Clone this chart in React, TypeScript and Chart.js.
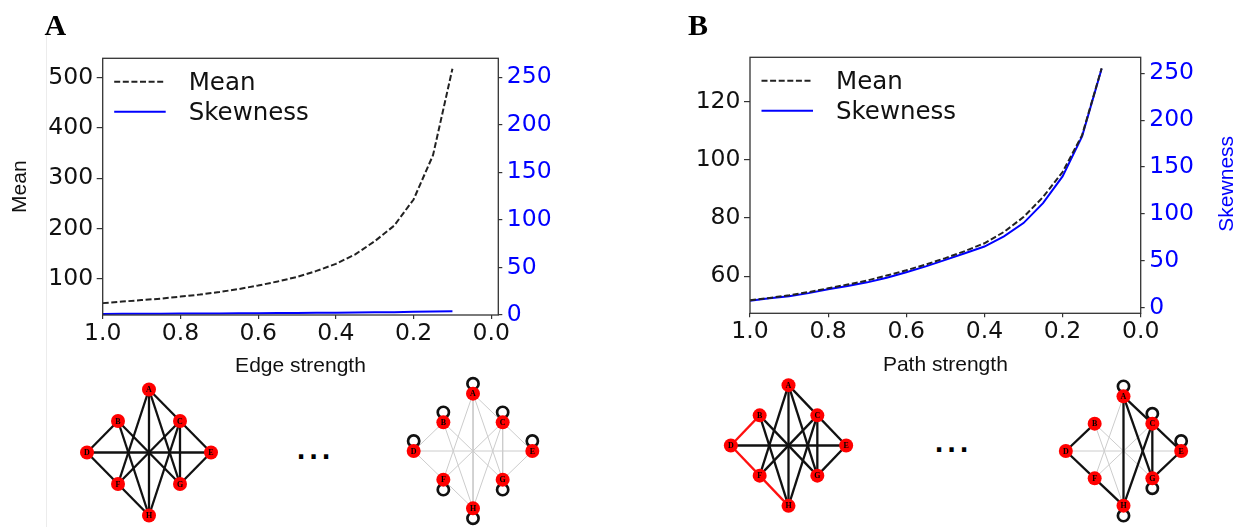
import React, { useEffect, useRef } from 'react';
import { Chart, registerables } from 'chart.js';

Chart.register(...registerables);

// ---------------- data ----------------
const STRENGTH = [1.0, 0.95, 0.9, 0.85, 0.8, 0.75, 0.7, 0.65, 0.6, 0.55, 0.5, 0.45, 0.4, 0.35, 0.3, 0.25, 0.2, 0.15, 0.1];
const EDGE_MEAN = [52, 55, 58, 61, 65, 69, 74, 80, 87, 95, 104, 116, 130, 149, 175, 206, 258, 346, 518];
const EDGE_SKEW = [1.1, 1.2, 1.3, 1.4, 1.5, 1.6, 1.7, 1.8, 1.9, 2.0, 2.1, 2.3, 2.4, 2.6, 2.8, 3.0, 3.3, 3.6, 3.9];
const PATH_MEAN = [51.7, 52.5, 53.4, 54.5, 55.8, 57.1, 58.5, 60.2, 62.0, 64.0, 66.2, 68.6, 71.3, 75.2, 80.3, 87.2, 95.8, 108.5, 131.5];
const PATH_SKEW = [7.5, 10, 12.3, 15.5, 19.7, 23, 27, 32, 37.8, 44, 51, 58, 65.2, 76, 90.2, 111.5, 140, 182.7, 254.7];
const X_TICKS = [1.0, 0.8, 0.6, 0.4, 0.2, 0.0];
const EDGE_MEAN_TICKS = [100, 200, 300, 400, 500];
const PATH_MEAN_TICKS = [60, 80, 100, 120];
const SKEW_TICKS = [0, 50, 100, 150, 200, 250];
const SERIES_LABELS = ['Mean', 'Skewness'];

// network diagrams
const NODE_NAMES = ['A', 'B', 'C', 'D', 'E', 'F', 'G', 'H'];
const NODE_X = [0, -1, 1, -2, 2, -1, 1, 0];
const NODE_Y = [2, 1, 1, 0, 0, -1, -1, -2];
const EDGES: [string, string][] = [
  ['A', 'C'], ['A', 'F'], ['A', 'G'], ['A', 'H'], ['B', 'D'], ['B', 'G'], ['B', 'H'], ['C', 'E'],
  ['C', 'F'], ['C', 'G'], ['C', 'H'], ['D', 'E'], ['D', 'F'], ['E', 'G'], ['F', 'H'],
];
const EDGE_KIND_1 = ['k', 'k', 'k', 'k', 'k', 'k', 'k', 'k', 'k', 'k', 'k', 'k', 'k', 'k', 'k'];
const EDGE_KIND_2 = ['g', 'g', 'g', 'g', 'g', 'g', 'g', 'g', 'g', 'g', 'g', 'g', 'g', 'g', 'g'];
const EDGE_KIND_3 = ['k', 'k', 'k', 'k', 'r', 'k', 'k', 'k', 'k', 'k', 'k', 'k', 'r', 'k', 'r'];
const EDGE_KIND_4 = ['k', 'g', 'k', 'k', 'k', 'g', 'g', 'k', 'g', 'k', 'k', 'g', 'k', 'k', 'k'];
const LOOPS_1: string[] = [];
const LOOP_DIRS_1: number[] = [];
const LOOPS_2 = ['A', 'B', 'C', 'D', 'E', 'F', 'G', 'H'];
const LOOP_DIRS_2 = [1, 1, 1, 1, 1, -1, -1, -1];
const LOOPS_4 = ['A', 'C', 'E', 'G', 'H'];
const LOOP_DIRS_4 = [1, 1, 1, -1, -1];

// ---------------- styles ----------------
const FRAME = '#333333';
const TEXT = '#111111';
const BLUE = '#0000ff';
const EDGE_STYLE: Record<string, { color: string; width: number }> = {
  k: { color: '#111111', width: 2.3 },
  g: { color: '#cccccc', width: 1 },
  r: { color: '#ff1010', width: 2.3 },
};
const LOOP_OFFSET = 10;

const framePlugin = {
  id: 'frameBox',
  afterDraw(chart: any) {
    const { ctx, chartArea: a } = chart;
    ctx.save();
    ctx.strokeStyle = FRAME;
    ctx.lineWidth = 1.3;
    ctx.strokeRect(a.left, a.top, a.right - a.left, a.bottom - a.top);
    ctx.restore();
  },
};

const legendPlugin = {
  id: 'innerLegend',
  afterDatasetsDraw(chart: any) {
    const { ctx, chartArea: a } = chart;
    ctx.save();
    chart.data.datasets.forEach((ds: any, i: number) => {
      const y = a.top + 23.5 + i * 30;
      ctx.strokeStyle = ds.borderColor;
      ctx.lineWidth = ds.borderWidth;
      ctx.setLineDash(ds.borderDash || []);
      ctx.beginPath();
      ctx.moveTo(a.left + 11.5, y);
      ctx.lineTo(a.left + 63, y);
      ctx.stroke();
      ctx.setLineDash([]);
      ctx.fillStyle = TEXT;
      ctx.font = '24.5px "DejaVu Sans"';
      ctx.textAlign = 'left';
      ctx.textBaseline = 'alphabetic';
      ctx.fillText(ds.label, a.left + 86, a.top + 32 + i * 30);
    });
    ctx.restore();
  },
};

type PanelSpec = {
  left: number; width: number; height: number;
  padTop: number; padBottom: number;
  yWidth: number; y1Width: number; xHeight: number;
  xMin: number; xMax: number;
  yMin: number; yMax: number; y1Min: number; y1Max: number;
  mean: number[]; skew: number[]; meanTicks: number[];
  xTitle: string; yTitle?: string; y1Title?: string; y1TitleX?: number;
  yTick: number; yPad: number; y1Tick: number; y1Pad: number;
};

function Panel({ spec }: { spec: PanelSpec }) {
  const ref = useRef<HTMLCanvasElement>(null);
  useEffect(() => {
    if (!ref.current) return;
    const tickFont = { family: 'DejaVu Sans', size: 23.5, lineHeight: 1 };
    const titleFont = { family: 'Liberation Sans', size: 21, lineHeight: 1.2 };
    const plugins: any[] = [framePlugin, legendPlugin];
    if (spec.y1Title) {
      plugins.push({
        id: 'rightTitle',
        afterDraw(chart: any) {
          const { ctx, chartArea: a } = chart;
          ctx.save();
          ctx.translate(spec.y1TitleX, (a.top + a.bottom) / 2 - 1.5);
          ctx.rotate(-Math.PI / 2);
          ctx.fillStyle = BLUE;
          ctx.font = '21px "Liberation Sans"';
          ctx.textAlign = 'center';
          ctx.textBaseline = 'alphabetic';
          ctx.fillText(spec.y1Title, 0, 0);
          ctx.restore();
        },
      });
    }
    const chart = new Chart(ref.current, {
      type: 'line',
      data: {
        datasets: [
          {
            label: SERIES_LABELS[0],
            data: STRENGTH.map((x, i) => ({ x, y: spec.mean[i] })),
            yAxisID: 'y',
            borderColor: '#222222',
            borderWidth: 2,
            borderDash: [6, 2.6],
            pointRadius: 0,
            fill: false,
            tension: 0,
          },
          {
            label: SERIES_LABELS[1],
            data: STRENGTH.map((x, i) => ({ x, y: spec.skew[i] })),
            yAxisID: 'y1',
            borderColor: BLUE,
            borderWidth: 2,
            pointRadius: 0,
            fill: false,
            tension: 0,
          },
        ],
      } as any,
      options: {
        animation: false,
        responsive: false,
        events: [],
        layout: { autoPadding: false, padding: { top: spec.padTop, bottom: spec.padBottom, left: 0, right: 0 } },
        plugins: { legend: { display: false }, tooltip: { enabled: false } },
        scales: {
          x: {
            type: 'linear',
            reverse: true,
            min: spec.xMin,
            max: spec.xMax,
            afterBuildTicks: (s: any) => { s.ticks = X_TICKS.map((v) => ({ value: v })); },
            afterFit: (s: any) => { s.height = spec.xHeight; },
            grid: { drawOnChartArea: false, drawTicks: true, tickLength: 4, color: FRAME, lineWidth: 1.2 },
            border: { display: false },
            ticks: {
              font: tickFont, color: TEXT, padding: 3, maxRotation: 0, autoSkip: false,
              callback: (v: any) => Number(v).toFixed(1),
            },
            title: { display: true, text: spec.xTitle, font: titleFont, color: TEXT, padding: { top: 0, bottom: 0 } },
          },
          y: {
            type: 'linear',
            position: 'left',
            min: spec.yMin,
            max: spec.yMax,
            afterBuildTicks: (s: any) => { s.ticks = spec.meanTicks.map((v) => ({ value: v })); },
            afterFit: (s: any) => { s.width = spec.yWidth; },
            grid: { drawOnChartArea: false, drawTicks: true, tickLength: spec.yTick, color: FRAME, lineWidth: 1.2 },
            border: { display: false },
            ticks: { font: tickFont, color: TEXT, padding: spec.yPad, callback: (v: any) => String(v) },
            title: {
              display: !!spec.yTitle, text: spec.yTitle || '', font: titleFont, color: TEXT,
              padding: { top: 7.4, bottom: 0 },
            },
          },
          y1: {
            type: 'linear',
            position: 'right',
            min: spec.y1Min,
            max: spec.y1Max,
            afterBuildTicks: (s: any) => { s.ticks = SKEW_TICKS.map((v) => ({ value: v })); },
            afterFit: (s: any) => { s.width = spec.y1Width; },
            grid: { drawOnChartArea: false, drawTicks: true, tickLength: spec.y1Tick, color: FRAME, lineWidth: 1.2 },
            border: { display: false },
            ticks: { font: tickFont, color: BLUE, padding: spec.y1Pad, callback: (v: any) => String(v) },
          },
        },
      } as any,
      plugins,
    });
    return () => chart.destroy();
  }, []);
  return (
    <canvas
      ref={ref}
      width={spec.width}
      height={spec.height}
      style={{ position: 'absolute', left: spec.left, top: 0, width: spec.width, height: spec.height }}
    />
  );
}

type GraphSpec = {
  cx: number; cy: number; ux: number; uy: number;
  kinds: string[]; loops: string[]; loopDirs: number[];
};

const nodeLabelPlugin = {
  id: 'nodeLabels',
  afterDatasetsDraw(chart: any) {
    const { ctx } = chart;
    const ds = chart.data.datasets[0];
    const meta = chart.getDatasetMeta(0);
    ctx.save();
    ctx.fillStyle = '#000';
    ctx.font = 'bold 8px "Liberation Serif"';
    ctx.textAlign = 'center';
    ctx.textBaseline = 'middle';
    meta.data.forEach((el: any, i: number) => {
      ctx.fillText(ds.data[i].name, el.x, el.y + 0.5);
    });
    ctx.restore();
  },
};

function Graph({ spec }: { spec: GraphSpec }) {
  const ref = useRef<HTMLCanvasElement>(null);
  const w = Math.round(6 * spec.ux);
  const h = Math.round(6 * spec.uy);
  useEffect(() => {
    if (!ref.current) return;
    const unitY = h / 6;
    const pos = (n: string) => {
      const i = NODE_NAMES.indexOf(n);
      return { x: NODE_X[i], y: NODE_Y[i] };
    };
    const nodeSet = {
      data: NODE_NAMES.map((n, i) => ({ x: NODE_X[i], y: NODE_Y[i], name: n })),
      pointRadius: 7,
      pointBackgroundColor: '#ff0000',
      pointBorderColor: '#ff0000',
      pointBorderWidth: 0,
      order: 0,
      clip: false,
    };
    const loopSet = {
      data: spec.loops.map((n, i) => {
        const p = pos(n);
        return { x: p.x, y: p.y + (spec.loopDirs[i] * LOOP_OFFSET) / unitY };
      }),
      pointRadius: 5.6,
      pointBorderWidth: 2.7,
      pointBorderColor: '#111111',
      pointBackgroundColor: 'rgba(0,0,0,0)',
      order: 1,
      clip: false,
    };
    const edgeSets = EDGES.map(([a, b], i) => {
      const st = EDGE_STYLE[spec.kinds[i]];
      return {
        data: [pos(a), pos(b)],
        showLine: true,
        borderColor: st.color,
        borderWidth: st.width,
        pointRadius: 0,
        order: st.width > 1.5 ? 2 : 3,
        clip: false,
      };
    });
    const chart = new Chart(ref.current, {
      type: 'scatter',
      data: { datasets: [nodeSet, loopSet, ...edgeSets] } as any,
      options: {
        animation: false,
        responsive: false,
        events: [],
        layout: { autoPadding: false, padding: 0 },
        plugins: { legend: { display: false }, tooltip: { enabled: false } },
        scales: {
          x: { type: 'linear', min: -3, max: 3, display: false },
          y: { type: 'linear', min: -3, max: 3, display: false },
        },
      } as any,
      plugins: [nodeLabelPlugin],
    });
    return () => chart.destroy();
  }, []);
  return (
    <canvas
      ref={ref}
      width={w}
      height={h}
      style={{ position: 'absolute', left: spec.cx - w / 2, top: spec.cy - h / 2, width: w, height: h }}
    />
  );
}

const PANEL_A: PanelSpec = {
  left: 0, width: 600, height: 385, padTop: 58.3, padBottom: 6.4,
  yWidth: 102.7, y1Width: 101.7, xHeight: 63.6,
  xMin: -0.018, xMax: 1, yMin: 28.4, yMax: 538.6, y1Min: 0, y1Max: 270,
  mean: EDGE_MEAN, skew: EDGE_SKEW, meanTicks: EDGE_MEAN_TICKS,
  xTitle: 'Edge strength', yTitle: 'Mean',
  yTick: 6, yPad: 3.5, y1Tick: 4, y1Pad: 4.5,
};

const PANEL_B: PanelSpec = {
  left: 640, width: 596, height: 385, padTop: 57.3, padBottom: 7,
  yWidth: 110, y1Width: 95.3, xHeight: 64.7,
  xMin: 0, xMax: 1, yMin: 47.2, yMax: 135.3, y1Min: -6, y1Max: 267,
  mean: PATH_MEAN, skew: PATH_SKEW, meanTicks: PATH_MEAN_TICKS,
  xTitle: 'Path strength', y1Title: 'Skewness', y1TitleX: 593.3,
  yTick: 6, yPad: 3.5, y1Tick: 4, y1Pad: 4.5,
};

const GRAPHS: GraphSpec[] = [
  { cx: 148.7, cy: 452, ux: 31, uy: 31.5, kinds: EDGE_KIND_1, loops: LOOPS_1, loopDirs: LOOP_DIRS_1 },
  { cx: 472.5, cy: 451.3, ux: 29.6, uy: 28.7, kinds: EDGE_KIND_2, loops: LOOPS_2, loopDirs: LOOP_DIRS_2 },
  { cx: 788.3, cy: 445.9, ux: 28.8, uy: 30.1, kinds: EDGE_KIND_3, loops: LOOPS_1, loopDirs: LOOP_DIRS_1 },
  { cx: 1123.5, cy: 450.9, ux: 28.75, uy: 27.4, kinds: EDGE_KIND_4, loops: LOOPS_4, loopDirs: LOOP_DIRS_4 },
];

const letterStyle: React.CSSProperties = {
  position: 'absolute',
  fontFamily: '"Liberation Serif", serif',
  fontWeight: 'bold',
  fontSize: 30,
  lineHeight: '30px',
  color: '#000',
  margin: 0,
};

const dotsStyle: React.CSSProperties = {
  position: 'absolute',
  fontFamily: '"DejaVu Sans", sans-serif',
  fontWeight: 'bold',
  fontSize: 24,
  lineHeight: '24px',
  letterSpacing: 3.4,
  color: '#000',
  whiteSpace: 'nowrap',
};

export default function App() {
  return (
    <div style={{ position: 'fixed', left: 0, top: 0, width: 1236, height: 527, overflow: 'hidden', background: '#fff' }}>
      <div style={{ position: 'absolute', left: 46, top: 35, width: 1, height: 492, background: '#ececec' }} />
      <Panel spec={PANEL_A} />
      <Panel spec={PANEL_B} />
      {GRAPHS.map((g, i) => (
        <Graph key={i} spec={g} />
      ))}
      <div style={{ ...letterStyle, left: 44.5, top: 10 }}>A</div>
      <div style={{ ...letterStyle, left: 688, top: 10 }}>B</div>
      <div style={{ ...dotsStyle, left: 296.5, top: 439 }}>...</div>
      <div style={{ ...dotsStyle, left: 934.5, top: 432 }}>...</div>
    </div>
  );
}
